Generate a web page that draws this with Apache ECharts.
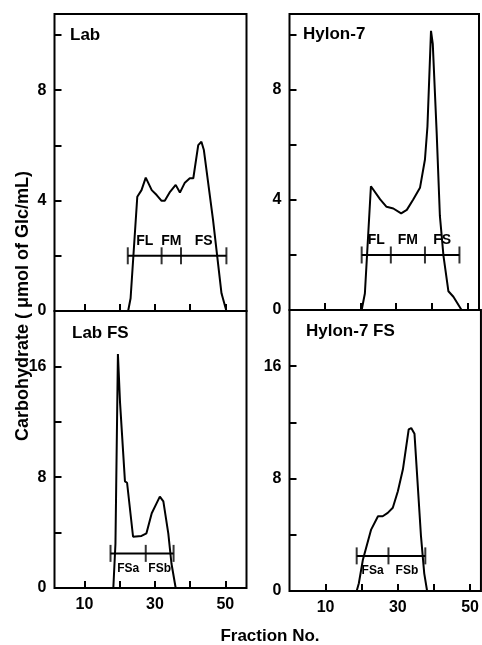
<!DOCTYPE html>
<html><head><meta charset="utf-8">
<script src="https://cdn.jsdelivr.net/npm/echarts@6/dist/echarts.min.js"></script>
<style>html,body{margin:0;padding:0;background:#fff}#c{width:482px;height:645px}</style>
</head><body><div id="c"></div>
<script>
// ---- data ----
const labFrac = [22.4,23.1,25.0,26.2,27.4,29.1,30.5,31.9,32.8,34.3,35.9,37.1,38.5,39.9,40.9,42.3,43.2,43.9,46.5,48.9,50.3];
const labCarb = [0,0.46,4.14,4.38,4.83,4.38,4.2,3.99,3.99,4.32,4.57,4.29,4.65,4.81,4.81,6.01,6.13,5.83,3.3,0.64,0];
const hylFrac = [20.3,21.2,22.9,25.5,27.3,29.2,31.4,33.0,34.8,36.7,38.1,38.8,39.8,40.3,41.4,42.3,43.3,44.7,46.1,48.4];
const hylCarb = [0,0.6,4.5,4.02,3.75,3.69,3.51,3.64,4.02,4.44,5.47,6.67,10.15,9.67,6.43,3.42,1.98,0.68,0.48,0];
const labFsFrac = [18.2,18.8,19.5,20.1,21.5,22.1,23.8,26.2,27.6,29.1,30.5,31.4,32.4,33.8,34.7,35.9];
const labFsCarb = [0,3.2,16.9,13.4,7.7,7.6,3.7,3.76,3.95,5.4,6.13,6.6,6.25,3.95,1.77,0];
const hylFsFrac = [18.6,19.2,20.3,22.6,24.5,25.8,27.2,28.6,30.0,31.4,33.0,33.7,34.6,36.4,37.3,38.1];
const hylFsCarb = [0,0.55,2.2,4.37,5.32,5.32,5.56,5.92,7.1,8.66,11.5,11.6,11.2,3.9,1.26,0];

const labBounds = [22.3,31.9,37.4,50.3];   const labNames = ['FL','FM','FS'];   const labBarLevel = 2;
const hylBounds = [20.3,28.5,38.1,47.8];   const hylNames = ['FL','FM','FS'];   const hylBarLevel = 2;
const labFsBounds = [17.4,27.4,35.3];      const labFsNames = ['FSa','FSb'];    const labFsBarLevel = 2.5;
const hylFsBounds = [18.6,27.4,37.6];      const hylFsNames = ['FSa','FSb'];    const hylFsBarLevel = 2.5;

const fractionTicks = [10,20,30,40,50];
const fractionLabels = [10,30,50];
const topYTicks = [2,4,6,8,10];
const topYLabels = [0,4,8];
const botYTicks = [4,8,12,16];
const botYLabels = [0,8,16];

// ---- layout / style ----
const FONT = "'Liberation Sans', Arial, sans-serif";
const panels = [
  {title:'Lab',        frac:labFrac,   carb:labCarb,   bounds:labBounds,   names:labNames,   lvl:labBarLevel,   above:true,
   grid:{left:54.5,top:14,width:192,height:297}, xmin:1.5, xmax:56, ymax:10.76, yT:topYTicks, yL:topYLabels, xl:false, tx:70, ty:37},
  {title:'Hylon-7',    frac:hylFrac,   carb:hylCarb,   bounds:hylBounds,   names:hylNames,   lvl:hylBarLevel,   above:true,
   grid:{left:289.5,top:14,width:189.5,height:296}, xmin:0, xmax:53.3, ymax:10.76, yT:topYTicks, yL:topYLabels, xl:false, tx:303, ty:36},
  {title:'Lab FS',     frac:labFsFrac, carb:labFsCarb, bounds:labFsBounds, names:labFsNames, lvl:labFsBarLevel, above:false,
   grid:{left:54.5,top:311,width:192,height:277}, xmin:1.5, xmax:56, ymax:20, yT:botYTicks, yL:botYLabels, xl:true, tx:72, ty:335},
  {title:'Hylon-7 FS', frac:hylFsFrac, carb:hylFsCarb, bounds:hylFsBounds, names:hylFsNames, lvl:hylFsBarLevel, above:false,
   grid:{left:289.5,top:310,width:191.5,height:281}, xmin:0, xmax:53, ymax:20, yT:botYTicks, yL:botYLabels, xl:true, tx:306, ty:333}
];

const grid = [], xAxis = [], yAxis = [], series = [], graphic = [];
panels.forEach((p, i) => {
  grid.push(Object.assign({show:true, borderColor:'#000', borderWidth:2, backgroundColor:'transparent'}, p.grid));
  xAxis.push({type:'value', gridIndex:i, min:p.xmin, max:p.xmax,
    axisLine:{show:false}, splitLine:{show:false},
    axisTick:{show:true, inside:true, length:7, lineStyle:{color:'#000', width:2}, customValues:fractionTicks},
    axisLabel:{show:p.xl, customValues:fractionLabels, color:'#000', fontFamily:FONT, fontWeight:'bold', fontSize:16, margin:9}
  });
  yAxis.push({type:'value', gridIndex:i, min:0, max:p.ymax,
    axisLine:{show:false}, splitLine:{show:false},
    axisTick:{show:true, inside:true, length:7, lineStyle:{color:'#000', width:2}, customValues:p.yT},
    axisLabel:{customValues:p.yL, color:'#000', fontFamily:FONT, fontWeight:'bold', fontSize:16, margin:8}
  });
  // elution curve
  series.push({type:'line', xAxisIndex:i, yAxisIndex:i, symbol:'none', silent:true,
    lineStyle:{color:'#000', width:2}, data:p.frac.map((x,k)=>[x,p.carb[k]])});
  // pooled fraction bar
  series.push({type:'line', xAxisIndex:i, yAxisIndex:i, symbol:'none', silent:true,
    lineStyle:{color:'#000', width:2}, data:[[p.bounds[0],p.lvl],[p.bounds[p.bounds.length-1],p.lvl]]});
  series.push({type:'scatter', xAxisIndex:i, yAxisIndex:i, silent:true, symbol:'rect', symbolSize:[2,17],
    itemStyle:{color:'#000'}, data:p.bounds.map(b=>[b,p.lvl])});
  // bar labels
  series.push({type:'scatter', xAxisIndex:i, yAxisIndex:i, silent:true, symbolSize:0,
    itemStyle:{color:'#000', opacity:1},
    label:{show:true, position:p.above?'top':'bottom', distance:p.above?8:9,
      formatter:(d)=>p.names[d.dataIndex], color:'#000', opacity:1, fontFamily:FONT, fontWeight:'bold', fontSize:p.above?14:12},
    data:p.names.map((n,k)=>[(p.bounds[k]+p.bounds[k+1])/2, p.lvl])});
  graphic.push({type:'text', left:p.tx, top:p.ty-10, style:{text:p.title, fill:'#000', font:'bold 17px '+FONT}});
});
graphic.push({type:'text', x:23, y:306, rotation:Math.PI/2,
  style:{text:'Carbohydrate ( \u03bcmol of Glc/mL)', x:0, y:0, align:'center', verticalAlign:'middle', fill:'#000', font:'bold 18px '+FONT}});
graphic.push({type:'text', x:270, y:636,
  style:{text:'Fraction No.', x:0, y:0, align:'center', verticalAlign:'middle', fill:'#000', font:'bold 17px '+FONT}});

const chart = echarts.init(document.getElementById('c'), null, {renderer:'canvas'});
chart.setOption({animation:false, backgroundColor:'#fff', grid, xAxis, yAxis, series, graphic});
</script></body></html>
